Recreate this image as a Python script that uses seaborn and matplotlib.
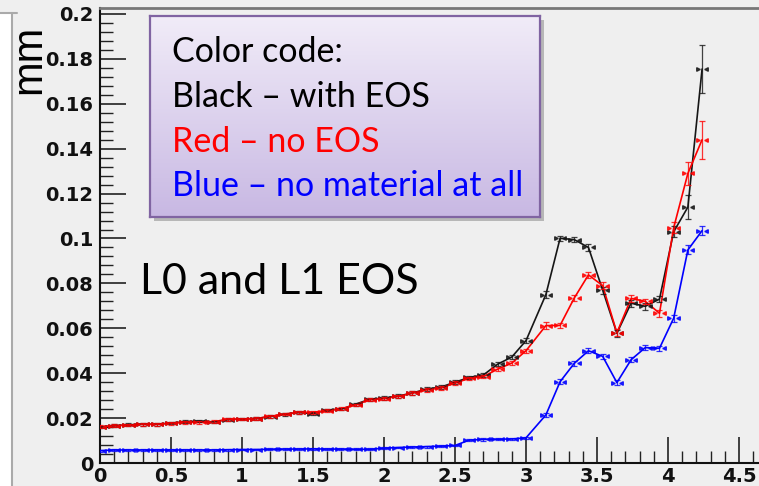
import numpy as np
import pandas as pd
import matplotlib
matplotlib.use("Agg")
import matplotlib.pyplot as plt
import seaborn as sns
from matplotlib.ticker import MultipleLocator, FuncFormatter
from matplotlib.patches import Rectangle
from matplotlib.lines import Line2D

# ---------------- data ----------------
x_vals = [0.0, 0.1, 0.2, 0.3, 0.4, 0.5, 0.6, 0.7, 0.8, 0.9,
          1.0, 1.1, 1.2, 1.3, 1.4, 1.5, 1.6, 1.7, 1.8, 1.9,
          2.0, 2.1, 2.2, 2.3, 2.4, 2.5, 2.6, 2.7, 2.8, 2.9,
          3.0,
          3.14, 3.24, 3.34, 3.44, 3.54, 3.64, 3.74, 3.84, 3.94, 4.04, 4.14, 4.24]

black_vals = [0.0160, 0.0166, 0.0170, 0.0173, 0.0173, 0.0178, 0.0184, 0.0187, 0.0183, 0.0193,
              0.0196, 0.0198, 0.0207, 0.0217, 0.0225, 0.0220, 0.0236, 0.0240, 0.0262, 0.0284,
              0.0289, 0.0298, 0.0312, 0.0329, 0.0338, 0.0360, 0.0381, 0.0392, 0.0440, 0.0472,
              0.0545,
              0.0750, 0.1001, 0.0995, 0.0960, 0.0770, 0.0578, 0.0712, 0.0698, 0.0730, 0.1030, 0.1140, 0.1755]

red_vals = [0.0162, 0.0166, 0.0169, 0.0172, 0.0172, 0.0177, 0.0181, 0.0181, 0.0184, 0.0195,
            0.0196, 0.0198, 0.0208, 0.0218, 0.0226, 0.0226, 0.0233, 0.0242, 0.0259, 0.0282,
            0.0287, 0.0297, 0.0311, 0.0326, 0.0334, 0.0356, 0.0377, 0.0385, 0.0418, 0.0445,
            0.0500,
            0.0612, 0.0613, 0.0735, 0.0838, 0.0790, 0.0580, 0.0733, 0.0720, 0.0667, 0.1048, 0.1290, 0.1440]

blue_vals = [0.0055, 0.0058, 0.0058, 0.0058, 0.0058, 0.0058, 0.0058, 0.0058, 0.0058, 0.0059,
             0.0060, 0.0060, 0.0061, 0.0062, 0.0062, 0.0063, 0.0062, 0.0062, 0.0061, 0.0061,
             0.0066, 0.0069, 0.0071, 0.0073, 0.0075, 0.0078, 0.0102, 0.0105, 0.0106, 0.0107,
             0.0112,
             0.0214, 0.0362, 0.0444, 0.0500, 0.0475, 0.0358, 0.0460, 0.0514, 0.0511, 0.0645, 0.0949, 0.1035]

black_err = [0.0006, 0.0006, 0.0006, 0.0006, 0.0006, 0.0006, 0.0006, 0.0006, 0.0006, 0.0006,
             0.0006, 0.0006, 0.0006, 0.0006, 0.0006, 0.0006, 0.0006, 0.0006, 0.0006, 0.0006,
             0.0008, 0.0008, 0.0008, 0.0008, 0.0008, 0.0008, 0.0008, 0.0008, 0.0010, 0.0010,
             0.0010,
             0.0015, 0.0012, 0.0012, 0.0015, 0.0015, 0.0015, 0.0015, 0.0015, 0.0015, 0.0025, 0.0055, 0.0105]

red_err = [0.0006, 0.0006, 0.0006, 0.0006, 0.0006, 0.0006, 0.0006, 0.0006, 0.0006, 0.0006,
           0.0006, 0.0006, 0.0006, 0.0006, 0.0006, 0.0006, 0.0006, 0.0006, 0.0006, 0.0006,
           0.0008, 0.0008, 0.0008, 0.0008, 0.0008, 0.0008, 0.0008, 0.0008, 0.0010, 0.0010,
           0.0010,
           0.0015, 0.0012, 0.0015, 0.0015, 0.0015, 0.0015, 0.0015, 0.0012, 0.0015, 0.0025, 0.0050, 0.0085]

blue_err = [0.0004, 0.0004, 0.0004, 0.0004, 0.0004, 0.0004, 0.0004, 0.0004, 0.0004, 0.0004,
            0.0004, 0.0004, 0.0004, 0.0004, 0.0004, 0.0004, 0.0004, 0.0004, 0.0004, 0.0004,
            0.0004, 0.0004, 0.0004, 0.0004, 0.0004, 0.0004, 0.0005, 0.0005, 0.0005, 0.0005,
            0.0006,
            0.0008, 0.0010, 0.0012, 0.0012, 0.0012, 0.0012, 0.0012, 0.0012, 0.0012, 0.0015, 0.0020, 0.0020]

series_names = ["with EOS", "no EOS", "no material"]
series_colors = ["#161616", "#ff0000", "#0000ff"]

y_ticks = [0, 0.02, 0.04, 0.06, 0.08, 0.1, 0.12, 0.14, 0.16, 0.18, 0.2]
x_ticks = [0, 0.5, 1, 1.5, 2, 2.5, 3, 3.5, 4, 4.5]

legend_lines = ["Color code:", "Black \u2013 with EOS", "Red \u2013 no EOS",
                "Blue \u2013 no material at all"]
legend_colors = ["#000000", "#000000", "#ff0000", "#0000ff"]

# ---------------- figure ----------------
sns.set_theme(style="ticks")
plt.rcParams["font.family"] = ["DejaVu Sans"]

W, H = 759, 486
BG = "#efefef"
fig = plt.figure(figsize=(W / 100, H / 100), dpi=100, facecolor=BG)

ax = fig.add_axes([100 / W, 23 / H, 659 / W, 455 / H])
ax.set_facecolor(BG)

df = pd.concat([
    pd.DataFrame({"x": x_vals, "y": v, "err": e, "series": n})
    for v, e, n in zip([black_vals, red_vals, blue_vals],
                       [black_err, red_err, blue_err], series_names)
], ignore_index=True)

palette = dict(zip(series_names, series_colors))
sns.lineplot(data=df, x="x", y="y", hue="series", palette=palette,
             estimator=None, sort=False, legend=False, linewidth=1.2, ax=ax,
             zorder=3)

for name in series_names:
    sub = df[df["series"] == name]
    c = palette[name]
    ax.errorbar(sub["x"], sub["y"], yerr=sub["err"], fmt="none", ecolor=c,
                elinewidth=0.9, capsize=2, capthick=0.9, alpha=0.8, zorder=4)
    ax.plot(sub["x"] - 0.03, sub["y"], linestyle="none", marker=">",
            markersize=2.6, color=c, alpha=0.8, zorder=4)
    ax.plot(sub["x"] + 0.03, sub["y"], linestyle="none", marker="<",
            markersize=2.6, color=c, alpha=0.8, zorder=4)

ax.set_xlim(0, 659 / 142.0)
ax.set_ylim(0, 455 / 2245.0)
ax.set_xticks(x_ticks)
ax.set_yticks(y_ticks)
ax.xaxis.set_minor_locator(MultipleLocator(0.1))
ax.yaxis.set_minor_locator(MultipleLocator(0.004))
fmt = FuncFormatter(lambda v, p: "%g" % round(v, 4))
ax.xaxis.set_major_formatter(fmt)
ax.yaxis.set_major_formatter(fmt)
ax.tick_params(which="major", direction="in", length=19, width=1.2, color="#222222",
               labelsize=14, pad=5)
ax.tick_params(which="minor", direction="in", length=9, width=1.0, color="#222222")
ax.tick_params(axis="x", which="major", pad=3)
for lab in ax.get_xticklabels() + ax.get_yticklabels():
    lab.set_fontweight("bold")
    lab.set_color("#111111")
ax.set_xlabel("")
ax.set_ylabel("")
ax.spines["right"].set_visible(False)
ax.spines["left"].set_color("#111111")
ax.spines["bottom"].set_color("#111111")
ax.spines["left"].set_linewidth(1.5)
ax.spines["bottom"].set_linewidth(1.5)
ax.spines["top"].set_color("#777777")
ax.spines["top"].set_linewidth(2.0)

# "mm" axis unit label
fig.text(29 / W, 1 - 59 / H, "mm", rotation=90, fontsize=30,
         family=["Liberation Sans", "DejaVu Sans"], ha="center", va="center",
         color="#000000")

# left white strip of the slide
fig.patches.append(Rectangle((0, 0), 11 / W, 1 - 13 / H, transform=fig.transFigure,
                             facecolor="white", edgecolor="none", zorder=0))
fig.lines.append(Line2D([11.5 / W, 11.5 / W], [0, 1 - 13 / H], transform=fig.transFigure,
                        color="#aaaaaa", linewidth=1.5))
fig.lines.append(Line2D([0, 17 / W], [1 - 13 / H, 1 - 13 / H], transform=fig.transFigure,
                        color="#aaaaaa", linewidth=1.5))

# text box with gradient and shadow
bx0, by0, bw, bh = 150, 16, 390, 201
fig.patches.append(Rectangle(((bx0 + 4) / W, 1 - (by0 + bh + 4) / H), bw / W, bh / H,
                             transform=fig.transFigure, facecolor="#8a8a8a",
                             edgecolor="none", alpha=0.55, zorder=5))
bax = fig.add_axes([bx0 / W, 1 - (by0 + bh) / H, bw / W, bh / H], zorder=6)
top_c = np.array(matplotlib.colors.to_rgb("#f1ecf8"))
bot_c = np.array(matplotlib.colors.to_rgb("#c8b8e3"))
t = np.linspace(0, 1, 256)[:, None, None]
grad = top_c[None, None, :] * (1 - t) + bot_c[None, None, :] * t
bax.imshow(grad, aspect="auto", extent=[0, 1, 0, 1], origin="upper")
bax.set_xticks([])
bax.set_yticks([])
for s in bax.spines.values():
    s.set_color("#8064a2")
    s.set_linewidth(1.6)

line_y = [52, 97, 142, 186]
for txt, col, yy in zip(legend_lines, legend_colors, line_y):
    fig.text(172 / W, 1 - yy / H, txt, color=col, fontsize=24.5,
             family=["Lato", "DejaVu Sans"], ha="left", va="center", zorder=10)

fig.text(279 / W, 1 - 282 / H, "L0 and L1 EOS", color="#000000", fontsize=31,
         family=["Lato", "DejaVu Sans"], ha="center", va="center")

fig.savefig("out.png", dpi=100, facecolor=BG)
